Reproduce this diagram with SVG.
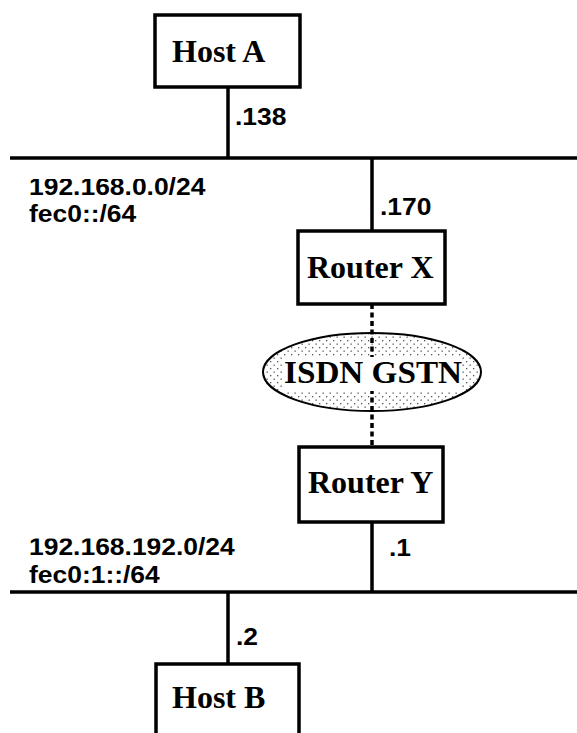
<svg xmlns="http://www.w3.org/2000/svg" width="577" height="733" viewBox="0 0 577 733">
<style>
.box{fill:#fff;stroke:#000;stroke-width:3.5}
.ln{stroke:#000;stroke-width:3.5;fill:none}
.dot{stroke:#000;stroke-width:3.5;stroke-dasharray:5 3.5;fill:none}
.t{font-family:"Liberation Serif","Times New Roman",serif;font-weight:bold;font-size:32px;fill:#000}
.s{font-family:"Liberation Sans",Arial,sans-serif;font-weight:bold;font-size:23px;fill:#000}
</style>
<defs>
<pattern id="stip" width="7" height="7" patternUnits="userSpaceOnUse">
<rect width="7" height="7" fill="#fff"/>
<rect x="0.5" y="0.5" width="1.3" height="1.3" fill="#555"/>
<rect x="4" y="4" width="1.3" height="1.3" fill="#555"/>
</pattern>
</defs>
<g id="connectors">
<line class="ln" x1="228" y1="87" x2="228" y2="158"/>
<line class="ln" x1="10" y1="158" x2="577" y2="158"/>
<line class="ln" x1="372" y1="158" x2="372" y2="231"/>
<line class="ln" x1="372" y1="522" x2="372" y2="592"/>
<line class="ln" x1="10" y1="592" x2="577" y2="592"/>
<line class="ln" x1="228" y1="592" x2="228" y2="664"/>
</g>
<g id="labels">
<text class="s" transform="translate(235,125) scale(1.15,1)">.138</text>
<text class="s" transform="translate(29,195) scale(1.15,1)">192.168.0.0/24</text>
<text class="s" transform="translate(29,222) scale(1.15,1)">fec0::/64</text>
<text class="s" transform="translate(380,215) scale(1.15,1)">.170</text>
<text class="s" transform="translate(29,555) scale(1.15,1)">192.168.192.0/24</text>
<text class="s" transform="translate(29,583) scale(1.15,1)">fec0:1::/64</text>
<text class="s" transform="translate(389,556) scale(1.15,1)">.1</text>
<text class="s" transform="translate(236,645) scale(1.15,1)">.2</text>
<rect x="28" y="172" width="127" height="7" fill="#fff"/>
<rect x="28" y="532" width="146" height="6.5" fill="#fff"/>
</g>
<g id="hostA">
<rect class="box" x="155" y="15" width="145" height="72"/>
<text class="t" x="172" y="62">Host A</text>
</g>
<g id="routerX">
<rect class="box" x="298" y="231" width="147" height="73"/>
<text class="t" x="307" y="278">Router X</text>
</g>
<g id="isdn">
<ellipse cx="372" cy="372" rx="109" ry="39" fill="url(#stip)" stroke="#000" stroke-width="2"/>
<line class="dot" x1="372" y1="304" x2="372" y2="447"/>
<rect x="283" y="357" width="179" height="34" fill="#fff"/>
<text class="t" x="284" y="383" textLength="178" lengthAdjust="spacingAndGlyphs">ISDN GSTN</text>
</g>
<g id="routerY">
<rect class="box" x="299" y="447" width="144" height="75"/>
<text class="t" x="308" y="493">Router Y</text>
</g>
<g id="hostB">
<rect class="box" x="156" y="664" width="143" height="90"/>
<text class="t" x="172" y="708">Host B</text>
</g>
</svg>
